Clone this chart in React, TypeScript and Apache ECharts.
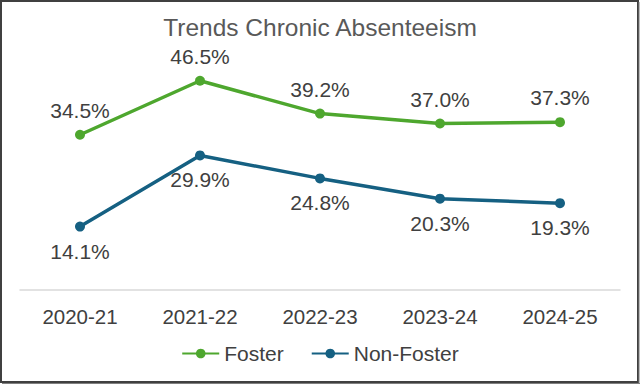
import React, { useEffect, useRef } from "react";
import * as echarts from "echarts";

const categories = ["2020-21", "2021-22", "2022-23", "2023-24", "2024-25"];
const fosterValues = [34.5, 46.5, 39.2, 37.0, 37.3];
const nonFosterValues = [14.1, 29.9, 24.8, 20.3, 19.3];
const seriesNames = ["Foster", "Non-Foster"];
const titleText = "Trends Chronic Absenteeism";

const FONT = "'Liberation Sans', Arial, sans-serif";
const GREEN = "#4EA72E";
const BLUE = "#156082";

export default function App() {
  const ref = useRef<HTMLDivElement>(null);
  useEffect(() => {
    document.body.style.margin = "0";
    if (!ref.current) return;
    const chart = echarts.init(ref.current, undefined, { renderer: "svg" });
    const labelStyle = {
      show: true,
      fontSize: 21,
      fontFamily: FONT,
      color: "#404040",
      formatter: (p: any) => Number(p.value).toFixed(1) + "%",
    };
    chart.setOption({
      animation: false,
      backgroundColor: "#ffffff",
      title: {
        text: titleText,
        left: "center",
        top: 10,
        textStyle: { fontSize: 24.5, fontWeight: "normal", color: "#595959", fontFamily: FONT },
      },
      legend: {
        data: seriesNames,
        bottom: 15,
        left: "center",
        itemWidth: 37,
        itemHeight: 12,
        itemGap: 27,
        textStyle: { fontSize: 21, color: "#404040", fontFamily: FONT },
      },
      grid: { left: 20, right: 20, top: 65, bottom: 94 },
      xAxis: {
        type: "category",
        data: categories,
        boundaryGap: true,
        axisLine: { lineStyle: { color: "#D9D9D9", width: 1.5 } },
        axisTick: { show: false },
        axisLabel: { fontSize: 20.5, color: "#404040", fontFamily: FONT, margin: 16 },
      },
      yAxis: {
        type: "value",
        min: 0,
        max: 50,
        show: false,
        splitLine: { show: false },
      },
      graphic: [
        {
          type: "rect",
          shape: { x: 1, y: 1, width: 637, height: 381 },
          style: { fill: "none", stroke: "#404040", lineWidth: 2 },
          silent: true,
        },
        {
          type: "line",
          shape: { x1: 639, y1: 2, x2: 639, y2: 384 },
          style: { stroke: "#7f7f7f", lineWidth: 1 },
          silent: true,
        },
        {
          type: "line",
          shape: { x1: 2, y1: 383.5, x2: 640, y2: 383.5 },
          style: { stroke: "#7f7f7f", lineWidth: 1 },
          silent: true,
        },
      ],
      series: [
        {
          name: seriesNames[0],
          type: "line",
          data: fosterValues,
          color: GREEN,
          symbol: "circle",
          symbolSize: 10,
          lineStyle: { width: 3.5, color: GREEN },
          itemStyle: { color: GREEN },
          label: { ...labelStyle, position: "top", distance: 9 },
        },
        {
          name: seriesNames[1],
          type: "line",
          data: nonFosterValues,
          color: BLUE,
          symbol: "circle",
          symbolSize: 10,
          lineStyle: { width: 3.5, color: BLUE },
          itemStyle: { color: BLUE },
          label: { ...labelStyle, position: "bottom", distance: 9 },
        },
      ],
    });
    return () => chart.dispose();
  }, []);
  return (
    <div
      ref={ref}
      style={{ position: "absolute", left: 0, top: 0, width: 640, height: 384 }}
    />
  );
}
